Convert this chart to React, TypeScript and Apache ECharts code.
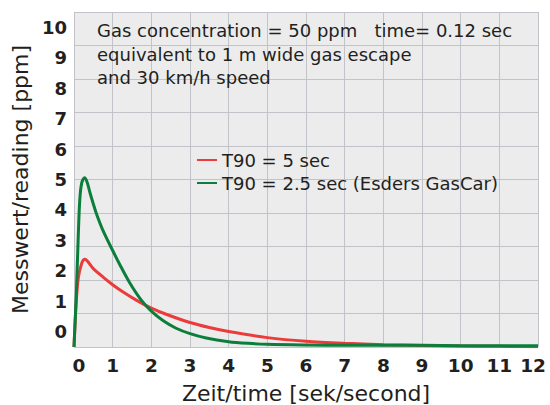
import React, { useEffect, useRef } from 'react';
import * as echarts from 'echarts';

const seriesNames = ['T90 = 5 sec', 'T90 = 2.5 sec (Esders GasCar)'];

const redTime = [0, 0.05, 0.11, 0.2, 0.28, 0.5, 0.76, 1.0, 1.27, 1.61, 2.0, 2.4, 3.0, 3.5, 4, 5, 6, 7, 8, 9, 10, 11, 12];
const redValues = [0, 1.2, 2.05, 2.5, 2.62, 2.34, 2.08, 1.86, 1.64, 1.4, 1.16, 0.97, 0.73, 0.58, 0.46, 0.28, 0.17, 0.11, 0.07, 0.045, 0.03, 0.02, 0.01];

const greenTime = [0, 0.06, 0.11, 0.15, 0.2, 0.27, 0.34, 0.41, 0.5, 0.58, 0.76, 1.0, 1.18, 1.44, 1.74, 2.0, 2.3, 2.64, 3.0, 3.42, 4, 4.5, 5, 6, 7, 8, 9, 10, 11, 12];
const greenValues = [0, 1.6, 3.3, 4.4, 4.9, 5.05, 4.92, 4.62, 4.27, 3.98, 3.45, 2.88, 2.47, 1.92, 1.4, 1.07, 0.79, 0.56, 0.4, 0.27, 0.16, 0.11, 0.08, 0.06, 0.05, 0.05, 0.05, 0.04, 0.04, 0.04];

const yTickLabels = ['0', '1', '2', '3', '4', '5', '6', '7', '8', '9', '10'];

const noteLines = [
  'Gas concentration = 50 ppm   time= 0.12 sec',
  'equivalent to 1 m wide gas escape',
  'and 30 km/h speed',
];

const RED = '#ec3b3b';
const GREEN = '#0b7e3c';
const GRID_LINE = '#c2c3c9';
const TEXT = '#231f20';

const tickFont = { fontSize: 18.5, fontWeight: 'bold' as const, color: TEXT, fontFamily: 'DejaVu Sans' };

export default function App() {
  const ref = useRef<HTMLDivElement>(null);
  useEffect(() => {
    const chart = echarts.init(ref.current as HTMLDivElement, null, { renderer: 'svg' });
    chart.setOption({
      animation: false,
      backgroundColor: '#ffffff',
      textStyle: { fontFamily: 'DejaVu Sans' },
      grid: {
        left: 74,
        right: 12,
        top: 12,
        bottom: 58,
        containLabel: false,
        outerBoundsMode: 'none',
        show: true,
        backgroundColor: '#ececec',
        borderWidth: 0,
      },
      legend: {
        orient: 'vertical',
        left: 197,
        top: 151,
        padding: 0,
        itemGap: 5,
        itemWidth: 20,
        itemHeight: 2,
        icon: 'rect',
        textStyle: { fontSize: 18, color: TEXT, fontFamily: 'DejaVu Sans' },
        data: seriesNames,
      },
      xAxis: {
        type: 'value',
        min: 0,
        max: 12,
        interval: 1,
        name: 'Zeit/time [sek/second]',
        nameLocation: 'middle',
        nameGap: 35,
        nameTextStyle: { fontSize: 22, color: TEXT, fontFamily: 'DejaVu Sans' },
        axisLine: { show: false },
        axisTick: { show: false },
        axisLabel: {
          ...tickFont,
          margin: 9,
          showMinLabel: true,
          showMaxLabel: true,
          hideOverlap: false,
          formatter: (v: number) => (v === 0 ? '{l|0}' : v === 12 ? '{r|12}' : String(v)),
          rich: {
            l: { ...tickFont, padding: [0, 0, 0, 10] },
            r: { ...tickFont, padding: [0, 10, 0, 0] },
          },
        },
        splitLine: { show: true, lineStyle: { color: GRID_LINE, width: 1 } },
      },
      yAxis: [
        {
          type: 'value',
          min: 0,
          max: 10,
          interval: 1,
          axisLine: { show: false },
          axisTick: { show: false },
          axisLabel: { show: false },
          splitLine: { show: true, lineStyle: { color: GRID_LINE, width: 1 } },
        },
        {
          type: 'category',
          position: 'left',
          data: yTickLabels,
          boundaryGap: true,
          name: 'Messwert/reading [ppm]',
          nameLocation: 'middle',
          nameGap: 41,
          nameRotate: 90,
          nameTextStyle: { fontSize: 22, color: TEXT, fontFamily: 'DejaVu Sans' },
          axisLine: { show: false },
          axisTick: { show: false },
          splitLine: { show: false },
          axisLabel: {
            fontSize: 18,
            fontWeight: 'bold',
            color: TEXT,
            fontFamily: 'DejaVu Sans',
            margin: 7,
          },
        },
      ],
      graphic: [
        {
          type: 'text',
          left: 97,
          top: 19,
          z: 10,
          style: {
            text: noteLines.join('\n'),
            font: '18px "DejaVu Sans"',
            fill: TEXT,
            lineHeight: 23.5,
          },
        },
      ],
      series: [
        {
          name: seriesNames[0],
          type: 'line',
          yAxisIndex: 0,
          data: redTime.map((t, i) => [t, redValues[i]]),
          showSymbol: false,
          symbol: 'none',
          smooth: 0.3,
          lineStyle: { color: RED, width: 3 },
          itemStyle: { color: RED },
          z: 3,
        },
        {
          name: seriesNames[1],
          type: 'line',
          yAxisIndex: 0,
          data: greenTime.map((t, i) => [t, greenValues[i]]),
          showSymbol: false,
          symbol: 'none',
          smooth: 0.3,
          lineStyle: { color: GREEN, width: 3 },
          itemStyle: { color: GREEN },
          z: 4,
        },
      ],
    });
    return () => chart.dispose();
  }, []);
  return <div ref={ref} style={{ position: 'absolute', left: 0, top: 0, width: 550, height: 405 }} />;
}
